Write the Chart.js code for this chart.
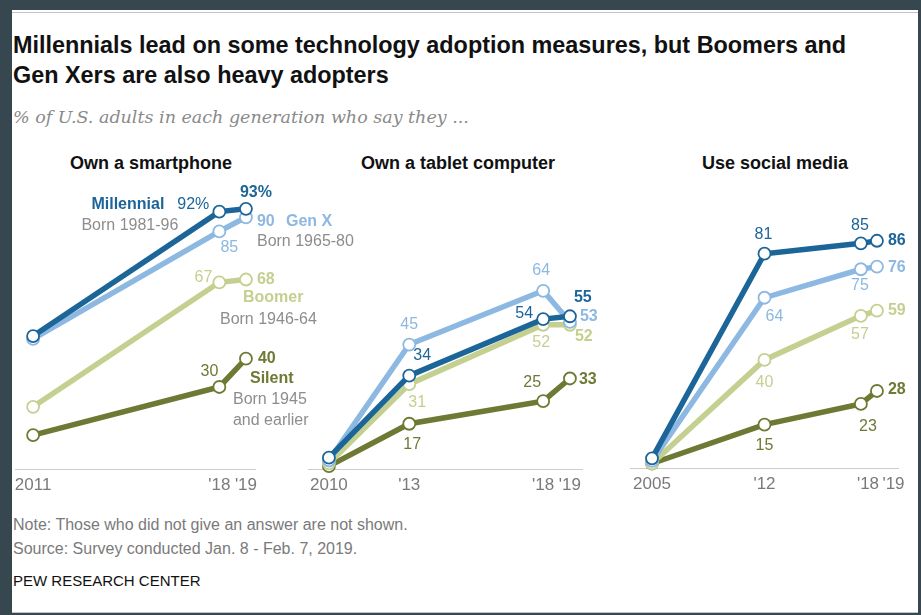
<!DOCTYPE html>
<html>
<head>
<meta charset="utf-8">
<title>Technology adoption by generation</title>
<script src="https://cdn.jsdelivr.net/npm/chart.js@4.4.1/dist/chart.umd.min.js"></script>
<style>
  html, body { margin: 0; padding: 0; background: #37474f; }
  #page { position: relative; width: 921px; height: 615px; overflow: hidden; background: #37474f; font-family: "Liberation Sans", Arial, sans-serif; }
  #card { position: absolute; left: 12px; top: 10px; width: 906px; height: 603px; background: #fff; }
  .rule { position: absolute; left: 12px; width: 906px; height: 1px; background: #c4c4c4; }
  .txt { position: absolute; left: 13px; white-space: nowrap; }
  #title { top: 30px; font-size: 23.4px; font-weight: bold; line-height: 30px; color: #111; }
  #subtitle { top: 107px; font: italic 17.5px "DejaVu Serif", Georgia, serif; line-height: 20px; color: #8a8a8a; }
  .ptitle { position: absolute; top: 153px; width: 260px; margin-left: -130px; text-align: center; font-size: 18px; font-weight: bold; line-height: 20px; color: #111; white-space: nowrap; }
  #note { top: 513px; font-size: 16px; line-height: 24px; color: #7a7a7a; }
  #brand { top: 571px; font-size: 15px; line-height: 20px; color: #111; }
  canvas { position: absolute; left: 0; top: 150px; }
</style>
</head>
<body>
<div id="page">
  <div id="card"></div>
  <div class="rule" style="top:12px"></div>
  <div class="rule" style="top:612px"></div>
  <div class="txt" id="title">Millennials lead on some technology adoption measures, but Boomers and<br>Gen Xers are also heavy adopters</div>
  <div class="txt" id="subtitle">% of U.S. adults in each generation who say they ...</div>
  <div class="ptitle" style="left:151px">Own a smartphone</div>
  <div class="ptitle" style="left:458px">Own a tablet computer</div>
  <div class="ptitle" style="left:775px">Use social media</div>
  <div class="txt" id="note">Note: Those who did not give an answer are not shown.<br>Source: Survey conducted Jan. 8 - Feb. 7, 2019.</div>
  <div class="txt" id="brand">PEW RESEARCH CENTER</div>
  <canvas id="phone" width="921" height="350"></canvas>
  <canvas id="tablet" width="921" height="350"></canvas>
  <canvas id="social" width="921" height="350"></canvas>
</div>
<script>
const generations = ["Millennial", "Gen X", "Boomer", "Silent"];
const birthYears = [["Born 1981-96"], ["Born 1965-80"], ["Born 1946-64"], ["Born 1945", "and earlier"]];

// Own a smartphone
const phoneYears = [2011, 2018, 2019];
const phoneTicks = ["2011", "'18", "'19"];
const phoneMillennial = [48, 92, 93];
const phoneGenX = [47, 85, 90];
const phoneBoomer = [23, 67, 68];
const phoneSilent = [13, 30, 40];

// Own a tablet computer
const tabletYears = [2010, 2013, 2018, 2019];
const tabletTicks = ["2010", "'13", "'18", "'19"];
const tabletMillennial = [5, 34, 54, 55];
const tabletGenX = [4, 45, 64, 53];
const tabletBoomer = [3, 31, 52, 52];
const tabletSilent = [2, 17, 25, 33];

// Use social media ('18 and '19 sit close together, so they are pushed right a little)
const socialYears = [2005, 2012, 2018, 2019];
const socialTicks = ["2005", "'12", "   '18", "       '19"];
const socialMillennial = [2, 81, 85, 86];
const socialGenX = [1, 64, 75, 76];
const socialBoomer = [0, 40, 57, 59];
const socialSilent = [0, 15, 23, 28];

const colors = ["#1c6599", "#8cb8e2", "#c3d08f", "#6c7a34"];
const grayText = "#8d8d8d";

// draws value labels, generation names and birth years next to points
const pointLabels = {
  id: "pointLabels",
  afterDatasetsDraw(chart, args, opts) {
    const ctx = chart.ctx;
    ctx.save();
    ctx.textBaseline = "middle";
    (opts.items || []).forEach((item) => {
      const pt = chart.getDatasetMeta(item.ds).data[item.i];
      const ds = chart.data.datasets[item.ds];
      let lines;
      if (item.name) lines = [generations[item.ds]];
      else if (item.born) lines = birthYears[item.ds];
      else lines = [ds.data[item.i].y + (item.suffix || "")];
      ctx.font = (item.bold ? "bold " : "") + "16px 'Liberation Sans', Arial, sans-serif";
      ctx.fillStyle = item.born ? grayText : colors[item.ds];
      ctx.textAlign = item.align || "center";
      lines.forEach((line, j) => {
        ctx.fillText(line, pt.x + item.dx, pt.y + item.dy + j * 21);
      });
    });
    ctx.restore();
  },
};

function buildChart(id, years, tickLabels, series, xRange, yRange, pad, items) {
  return new Chart(document.getElementById(id), {
    type: "line",
    data: {
      datasets: series.map((vals, k) => ({
        label: generations[k],
        data: years.map((yr, i) => ({ x: yr, y: vals[i] })),
        borderColor: colors[k],
        borderWidth: 5.5,
        pointRadius: 6,
        pointBorderWidth: 1.8,
        pointBackgroundColor: "#fff",
        pointBorderColor: colors[k],
        clip: false,
      })),
    },
    options: {
      responsive: false,
      animation: false,
      layout: { padding: pad },
      plugins: {
        legend: { display: false },
        tooltip: { enabled: false },
        pointLabels: { items },
      },
      scales: {
        x: {
          type: "linear",
          min: xRange[0],
          max: xRange[1],
          grid: { display: false, drawTicks: false },
          border: { display: true, color: "#cccccc", width: 1 },
          afterBuildTicks: (scale) => {
            scale.ticks = years.map((v) => ({ value: v }));
          },
          afterFit: (scale) => {
            scale.height = 30;
            scale.paddingLeft = 0;
            scale.paddingRight = 0;
          },
          ticks: {
            autoSkip: false,
            maxRotation: 0,
            padding: 6,
            color: "#7a7a7a",
            font: { family: "Liberation Sans", size: 17 },
            callback: (v) => tickLabels[years.indexOf(v)],
          },
        },
        y: { display: false, min: yRange[0], max: yRange[1] },
      },
    },
    plugins: [pointLabels],
  });
}

buildChart(
  "phone", phoneYears, phoneTicks,
  [phoneMillennial, phoneGenX, phoneBoomer, phoneSilent],
  [2010.32, 2019.34], [1, 100],
  { left: 15, right: 666, top: 39, bottom: 1 },
  [
    { ds: 0, i: 1, dx: -10, dy: -7, align: "right", suffix: "%" },
    { ds: 0, i: 2, dx: 10, dy: -16, bold: true, suffix: "%" },
    { ds: 1, i: 1, dx: 10, dy: 16 },
    { ds: 1, i: 2, dx: 11, dy: 4, align: "left", bold: true },
    { ds: 2, i: 1, dx: -7, dy: -5, align: "right" },
    { ds: 2, i: 2, dx: 11, dy: 0, align: "left", bold: true },
    { ds: 3, i: 1, dx: -1, dy: -15, align: "right" },
    { ds: 3, i: 2, dx: 12, dy: 0, align: "left", bold: true },
    { ds: 0, i: 1, dx: -55, dy: -7, align: "right", bold: true, name: true },
    { ds: 0, i: 1, dx: -41, dy: 14, align: "right", born: true },
    { ds: 1, i: 2, dx: 40, dy: 4, align: "left", bold: true, name: true },
    { ds: 1, i: 2, dx: 11, dy: 24, align: "left", born: true },
    { ds: 2, i: 2, dx: -3, dy: 18, align: "left", bold: true, name: true },
    { ds: 2, i: 2, dx: -26, dy: 40, align: "left", born: true },
    { ds: 3, i: 2, dx: 4, dy: 20, align: "left", bold: true, name: true },
    { ds: 3, i: 2, dx: -13, dy: 41, align: "left", born: true },
  ]
);

buildChart(
  "tablet", tabletYears, tabletTicks,
  [tabletMillennial, tabletGenX, tabletBoomer, tabletSilent],
  [2009.22, 2019.45], [1, 100],
  { left: 308, right: 339, top: 39, bottom: 1 },
  [
    { ds: 1, i: 1, dx: 0, dy: -20 },
    { ds: 0, i: 1, dx: 13, dy: -20 },
    { ds: 2, i: 1, dx: 8, dy: 18 },
    { ds: 3, i: 1, dx: 3, dy: 21 },
    { ds: 1, i: 2, dx: -2, dy: -20 },
    { ds: 0, i: 2, dx: -10, dy: -6, align: "right" },
    { ds: 2, i: 2, dx: -2, dy: 18 },
    { ds: 3, i: 2, dx: -11, dy: -19 },
    { ds: 0, i: 3, dx: 4, dy: -19, align: "left", bold: true },
    { ds: 1, i: 3, dx: 10, dy: -5, align: "left", bold: true },
    { ds: 2, i: 3, dx: 5, dy: 12, align: "left", bold: true },
    { ds: 3, i: 3, dx: 9, dy: 1, align: "left", bold: true },
  ]
);

buildChart(
  "social", socialYears, socialTicks,
  [socialMillennial, socialGenX, socialBoomer, socialSilent],
  [2003.63, 2020.31], [-1.74, 100],
  { left: 630, right: 23, top: 54.5, bottom: 2 },
  [
    { ds: 0, i: 1, dx: -1, dy: -19 },
    { ds: 1, i: 1, dx: 10, dy: 19 },
    { ds: 2, i: 1, dx: 0, dy: 23 },
    { ds: 3, i: 1, dx: 0, dy: 21 },
    { ds: 0, i: 2, dx: -1, dy: -18 },
    { ds: 1, i: 2, dx: -1, dy: 16 },
    { ds: 2, i: 2, dx: -1, dy: 19 },
    { ds: 3, i: 2, dx: 7, dy: 23 },
    { ds: 0, i: 3, dx: 11, dy: 0, align: "left", bold: true },
    { ds: 1, i: 3, dx: 11, dy: 1, align: "left", bold: true },
    { ds: 2, i: 3, dx: 11, dy: 0, align: "left", bold: true },
    { ds: 3, i: 3, dx: 11, dy: -1, align: "left", bold: true },
  ]
);
</script>
</body>
</html>
